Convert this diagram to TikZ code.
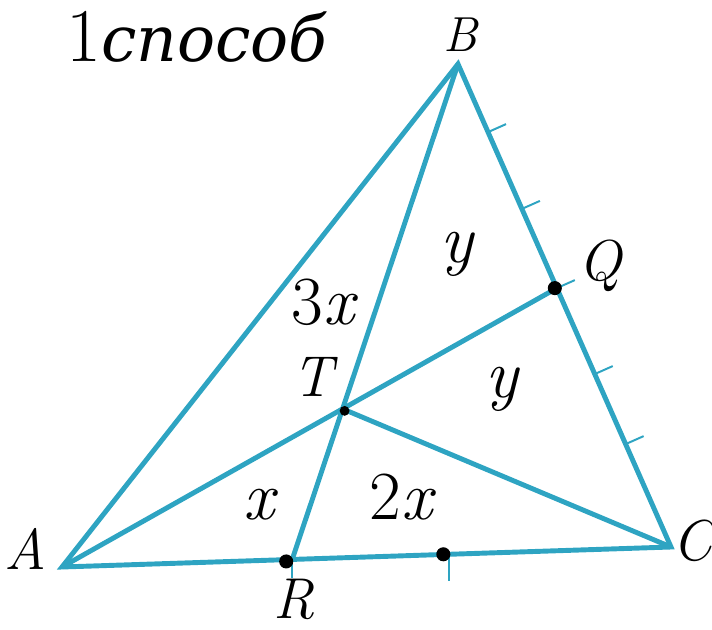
\documentclass[tikz,border=0pt]{standalone}
\usepackage{fontspec}
\newfontfamily\cirillico{DejaVu Serif}
\usetikzlibrary{calc}
\definecolor{linea}{RGB}{46,164,194}
\tikzset{
  lato/.style={line width=3.5pt, linea},
  tacca/.style={line width=1.4pt, linea},
  punto/.style={black},
  lettera/.style={font=\fontsize{41}{48}\selectfont\itshape, inner sep=0pt},
  valore/.style={font=\fontsize{49}{56}\selectfont, inner sep=0pt, anchor=base}
}
\begin{document}
\begin{tikzpicture}[x=0.025cm, y=-0.025cm]
\useasboundingbox (0,0) rectangle (712,630);

% vertici
\coordinate (A) at (62,567);
\coordinate (B) at (458,64);
\coordinate (C) at (671,547);
\coordinate (Q) at ($(B)!0.464!(C)$);
\coordinate (R) at ($(A)!0.378!(C)$);
\coordinate (S) at ($(A)!0.636!(C)$);
\coordinate (T) at (intersection of A--Q and B--R);

% triangolo e segmenti
\draw[lato] (A) -- (B) -- (C) -- cycle;
\draw[lato] (A) -- (Q);
\draw[lato] (B) -- (R);
\draw[lato] (T) -- (C);

% tacche
\foreach \t in {0.141,0.30,0.464,0.642,0.787}
  \draw[tacca] ($(B)!\t!(C)$) -- ++(18,-8);
\draw[tacca] (R) -- ++(0,19);
\draw[tacca] (S) -- ++(0,27);

% punti
\fill[punto] ([shift={(-6,2)}]R) circle (5pt);
\fill[punto] ([shift={(-6,0)}]S) circle (5pt);
\fill[punto] ([shift={(-2,0)}]Q) circle (5pt);
\fill[punto] ([shift={(2,2)}]T) circle (3.5pt);

% etichette
\node[lettera] (lA) at (25,549) {A};
\node[lettera, font=\fontsize{35}{42}\selectfont\itshape] (lB) at (460,35) {B};
\node[lettera] (lC) at (693,541) {C};
\node[lettera] (lQ) at (600,266) {Q};
\node[lettera] (lR) at (294,599) {R};
\node[lettera] (lT) at (313,377) {T};

\node[valore] (v3x) at (325,325) {3\textit{x}};
\node[valore] (vy1) at (458,263) {\textit{y}};
\node[valore] (vy2) at (503,397) {\textit{y}};
\node[valore] (vx) at (261,519) {\textit{x}};
\node[valore] (v2x) at (403,519) {2\textit{x}};

\node[font=\fontsize{54}{60}\selectfont, anchor=base west, inner sep=0pt] (titolo) at (66,62)
  {1{\cirillico\fontsize{45}{54}\selectfont\itshape способ}};

\end{tikzpicture}
\end{document}
